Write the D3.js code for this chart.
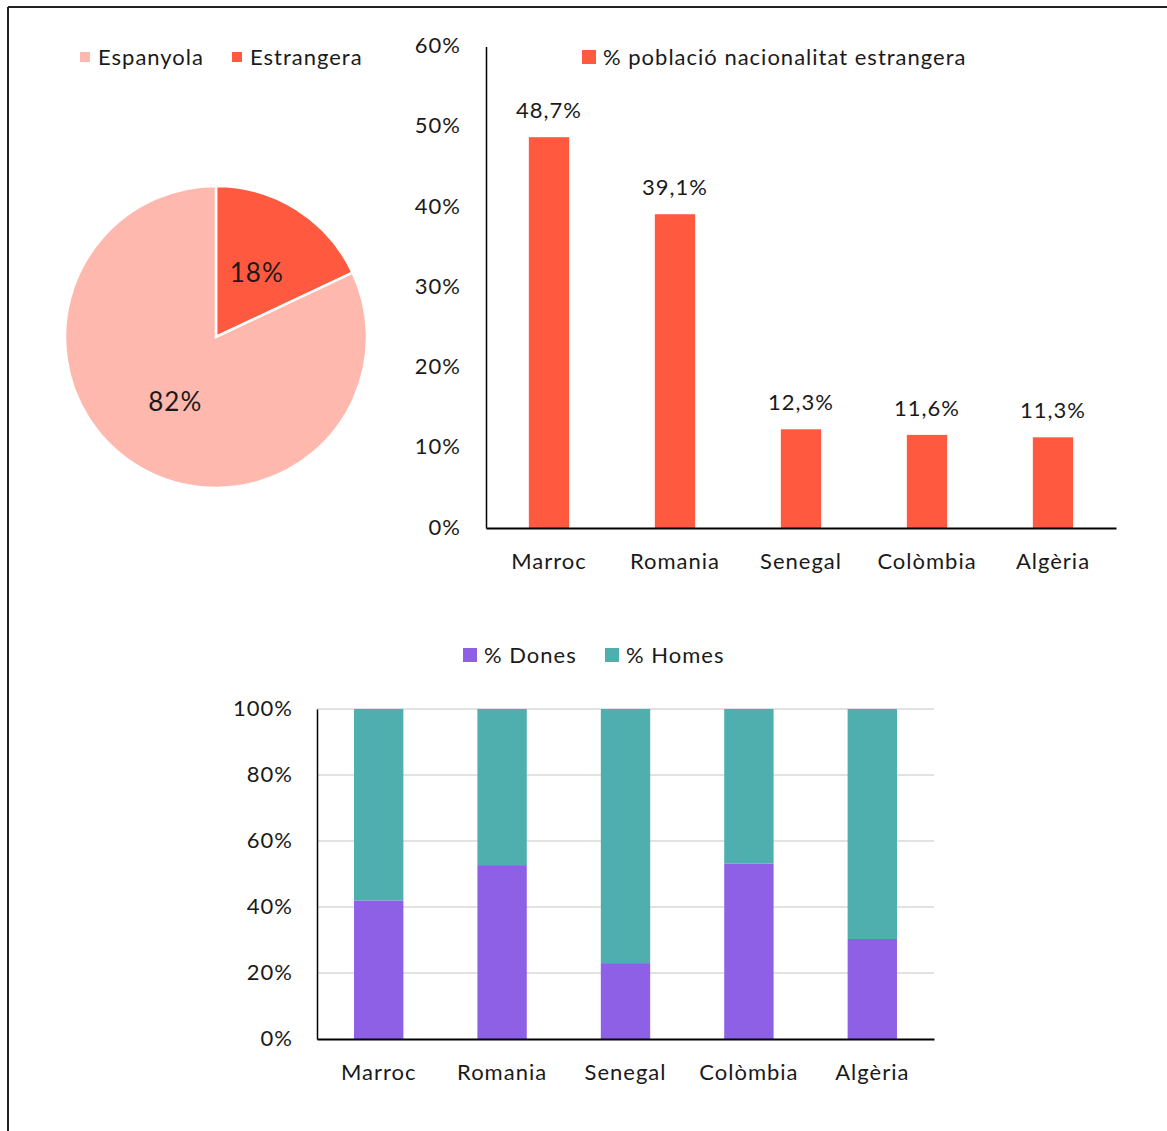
<!DOCTYPE html>
<html><head><meta charset="utf-8">
<script src="https://cdn.jsdelivr.net/npm/d3@7"></script>
<style>body{margin:0;background:#fff}svg{display:block;font-family:Lato,"Noto Sans",sans-serif}svg text{letter-spacing:1px}</style>
</head><body>
<svg id="c" width="1167" height="1131"></svg>
<script>
const pieLabels = ["Estrangera","Espanyola"];
const pieValues = [18, 82];
const legendPie = ["Espanyola","Estrangera"];
const countries = ["Marroc","Romania","Senegal","Colòmbia","Algèria"];
const foreignPct = [48.7, 39.1, 12.3, 11.6, 11.3];
const foreignLabels = ["48,7%","39,1%","12,3%","11,6%","11,3%"];
const barTicks = [0,10,20,30,40,50,60];
const donesPct = [42.0, 52.7, 23.0, 53.2, 30.3];
const homesPct = [58.0, 47.3, 77.0, 46.8, 69.7];
const stackTicks = [0,20,40,60,80,100];
const seriesNames = ["% Dones","% Homes"];

const C = {esp:"#FFB8AE", est:"#FF5A40", dones:"#8E60E6", homes:"#4FAEAE", txt:"#1a1a1a"};
const svg = d3.select("#c");

// frame
svg.append("line").attr("x1",8).attr("x2",1167).attr("y1",7).attr("y2",7).attr("stroke","#222").attr("stroke-width",2);
svg.append("line").attr("x1",8).attr("x2",8).attr("y1",7).attr("y2",1131).attr("stroke","#222").attr("stroke-width",2);

// ---- Pie ----
const pieColor = d3.scaleOrdinal().domain(pieLabels).range([C.est, C.esp]);
const pg = svg.append("g").attr("transform","translate(216,337)");
const pie = d3.pie().sort(null).value(d=>d.v);
const arcs = pie(pieLabels.map((l,i)=>({l, v:pieValues[i]})));
const arc = d3.arc().innerRadius(0).outerRadius(151);
pg.selectAll("path").data(arcs).join("path").attr("d",arc).attr("fill",d=>pieColor(d.data.l)).attr("stroke","#fff").attr("stroke-width",2.5);
pg.selectAll("text").data(arcs).join("text")
  .attr("transform",d=>{const a=(d.startAngle+d.endAngle)/2; const r=76; return `translate(${Math.sin(a)*r},${-Math.cos(a)*r})`;})
  .attr("text-anchor","middle").attr("dy","0.36em").attr("font-size",26).attr("fill",C.txt)
  .text(d=>d.data.v+"%");
// pie legend
const pl = svg.append("g");
let lx = [80, 232];
legendPie.forEach((l,i)=>{
  pl.append("rect").attr("x",lx[i]).attr("y",52).attr("width",10).attr("height",10).attr("fill",pieColor(l));
  pl.append("text").attr("x",lx[i]+18).attr("y",65).attr("font-size",22).attr("fill",C.txt).text(l);
});

// ---- Bar chart ----
const bx = d3.scaleBand().domain(countries).range([486,1116]).paddingInner(0.68).paddingOuter(0.34);
const by = d3.scaleLinear().domain([0,60]).range([528,46.5]);
const bg = svg.append("g");
bg.selectAll("rect.b").data(countries).join("rect").attr("class","b")
  .attr("x",d=>bx(d)).attr("width",bx.bandwidth())
  .attr("y",(d,i)=>by(foreignPct[i])).attr("height",(d,i)=>by(0)-by(foreignPct[i])).attr("fill",C.est);
bg.selectAll("text.v").data(countries).join("text").attr("class","v")
  .attr("x",d=>bx(d)+bx.bandwidth()/2).attr("y",(d,i)=>by(foreignPct[i])-19)
  .attr("text-anchor","middle").attr("font-size",22).attr("fill",C.txt).text((d,i)=>foreignLabels[i]);
const byAxis = bg.append("g").attr("transform","translate(486,0)")
  .call(d3.axisLeft(by).tickValues(barTicks).tickFormat(d=>d+"%").tickSize(0).tickPadding(25));
byAxis.select(".domain").attr("stroke","#000").attr("stroke-width",1.5);
byAxis.selectAll("text").attr("font-size",22).attr("fill",C.txt).attr("font-family","Lato").attr("dy","0.28em");
const bxAxis = bg.append("g").attr("transform","translate(0,528)")
  .call(d3.axisBottom(bx).tickSize(0).tickPadding(25));
bxAxis.select(".domain").attr("stroke","#000").attr("stroke-width",2);
bxAxis.selectAll("text").attr("font-size",22).attr("fill",C.txt).attr("font-family","Lato");
bg.append("rect").attr("x",582).attr("y",50).attr("width",14).attr("height",14).attr("fill",C.est);
bg.append("text").attr("x",603).attr("y",65).attr("font-size",22).attr("fill",C.txt).text("% població nacionalitat estrangera");

// ---- Stacked chart ----
const sx = d3.scaleBand().domain(countries).range([317,934]).paddingInner(0.6).paddingOuter(0.3);
const sy = d3.scaleLinear().domain([0,100]).range([1039,709]);
const sg = svg.append("g");
sg.selectAll("line.g").data(stackTicks.filter(t=>t>0)).join("line").attr("class","g")
  .attr("x1",317).attr("x2",934).attr("y1",d=>sy(d)).attr("y2",d=>sy(d)).attr("stroke","#d9d9d9").attr("stroke-width",1.5);
const rows = countries.map((c,i)=>({c, d:donesPct[i], h:homesPct[i]}));
const stack = d3.stack().keys(["d","h"])(rows);
const scol = [C.dones, C.homes];
stack.forEach((s,k)=>{
  sg.selectAll("rect.s"+k).data(s).join("rect").attr("class","s"+k)
    .attr("x",d=>sx(d.data.c)).attr("width",sx.bandwidth())
    .attr("y",d=>sy(d[1])).attr("height",d=>sy(d[0])-sy(d[1])).attr("fill",scol[k]);
});
const syAxis = sg.append("g").attr("transform","translate(317,0)")
  .call(d3.axisLeft(sy).tickValues(stackTicks).tickFormat(d=>d+"%").tickSize(0).tickPadding(24));
syAxis.select(".domain").attr("stroke","#000").attr("stroke-width",1.5);
syAxis.selectAll("text").attr("font-size",22).attr("fill",C.txt).attr("font-family","Lato").attr("dy","0.28em");
const sxAxis = sg.append("g").attr("transform","translate(0,1039)")
  .call(d3.axisBottom(sx).tickSize(0).tickPadding(25));
sxAxis.select(".domain").attr("stroke","#000").attr("stroke-width",2);
sxAxis.selectAll("text").attr("font-size",22).attr("fill",C.txt).attr("font-family","Lato");
const slx = [463, 605];
seriesNames.forEach((n,i)=>{
  sg.append("rect").attr("x",slx[i]).attr("y",648).attr("width",14).attr("height",14).attr("fill",scol[i]);
  sg.append("text").attr("x",slx[i]+21).attr("y",663).attr("font-size",22).attr("fill",C.txt).text(n);
});
</script>
</body></html>
